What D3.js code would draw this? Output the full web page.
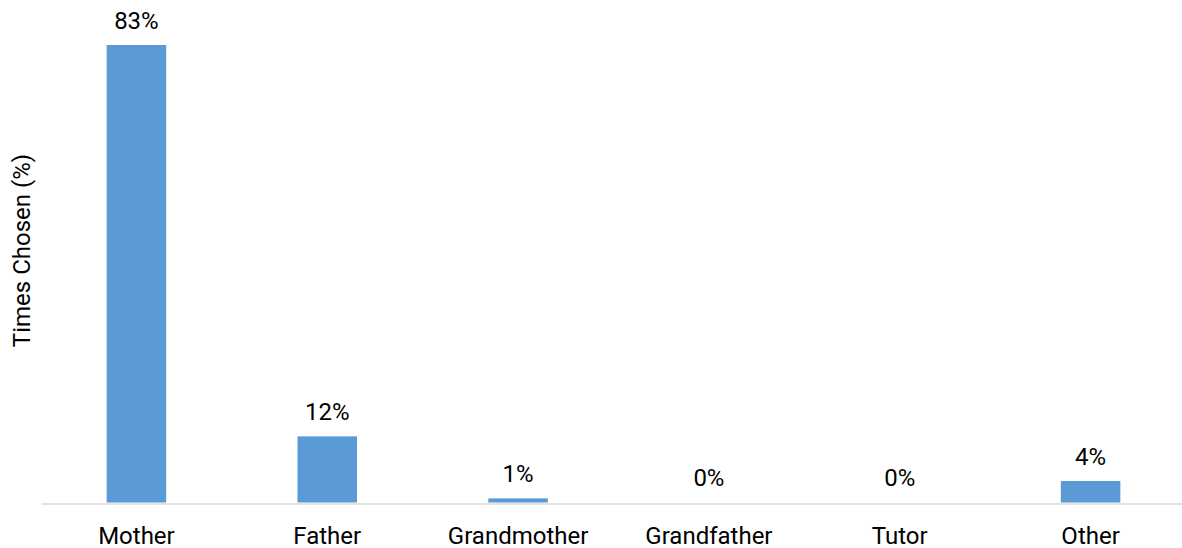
<!DOCTYPE html>
<html>
<head>
<meta charset="utf-8">
<script src="https://cdn.jsdelivr.net/npm/d3@7"></script>
<style>
  html, body { margin: 0; padding: 0; background: #fff; }
  svg { display: block; font-family: Roboto, "Noto Sans", sans-serif; }
</style>
</head>
<body>
<svg id="chart" width="1182" height="548"></svg>
<script>
const categories = ["Mother", "Father", "Grandmother", "Grandfather", "Tutor", "Other"];
const values = [83, 12, 0.75, 0, 0, 3.9];
const valueLabels = ["83%", "12%", "1%", "0%", "0%", "4%"];
const yTitle = "Times Chosen (%)";

const svg = d3.select("#chart");
const baseY = 502.5, topY = 45;

const x = d3.scaleBand()
  .domain(categories)
  .range([41, 1186])
  .paddingInner(0.688)
  .paddingOuter(0.344);

const y = d3.scaleLinear()
  .domain([0, 83])
  .range([baseY, topY]);

// bars
svg.append("g").selectAll("rect")
  .data(categories)
  .join("rect")
  .attr("x", d => x(d))
  .attr("width", x.bandwidth())
  .attr("y", (d, i) => y(values[i]))
  .attr("height", (d, i) => baseY - y(values[i]))
  .attr("fill", "#5b9bd5");

// x axis
const xAxis = svg.append("g")
  .attr("transform", `translate(0,${baseY + 1})`)
  .call(d3.axisBottom(x).tickSize(0).tickPadding(23));
xAxis.select(".domain").attr("stroke", "#d9d9d9").attr("stroke-width", 1.5);
xAxis.selectAll("text")
  .attr("font-size", 24)
  .attr("font-family", "Roboto, 'Noto Sans', sans-serif")
  .attr("fill", "#000");

// value labels
svg.append("g").selectAll("text")
  .data(categories)
  .join("text")
  .attr("x", d => x(d) + x.bandwidth() / 2)
  .attr("y", (d, i) => y(values[i]) - 16.5)
  .attr("text-anchor", "middle")
  .attr("font-size", 24)
  .attr("fill", "#000")
  .text((d, i) => valueLabels[i]);

// y title
svg.append("text")
  .attr("transform", "translate(30,250.5) rotate(-90)")
  .attr("text-anchor", "middle")
  .attr("font-size", 24)
  .attr("fill", "#000")
  .text(yTitle);
</script>
</body>
</html>
